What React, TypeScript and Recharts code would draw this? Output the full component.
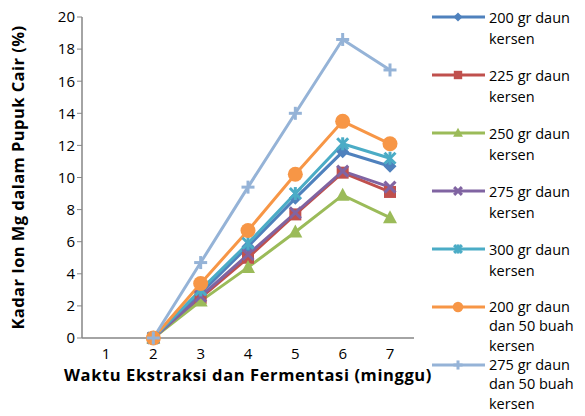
import React from "react";
import { LineChart, Line, XAxis, YAxis } from "recharts";

// minggu ke-
const weeks = [1, 2, 3, 4, 5, 6, 7];

// Kadar ion Mg (%) per perlakuan
const daun200 = [null, 0, 2.8, 5.7, 8.7, 11.6, 10.7];
const daun225 = [null, 0, 2.5, 5.0, 7.7, 10.3, 9.1];
const daun250 = [null, 0, 2.3, 4.4, 6.6, 8.9, 7.5];
const daun275 = [null, 0, 2.6, 5.2, 7.8, 10.4, 9.4];
const daun300 = [null, 0, 3.0, 5.9, 9.0, 12.1, 11.2];
const daun200buah = [null, 0, 3.4, 6.7, 10.2, 13.5, 12.1];
const daun275buah = [null, 0, 4.7, 9.4, 14.0, 18.6, 16.7];

const yTicks = [0, 2, 4, 6, 8, 10, 12, 14, 16, 18, 20];

const series = [
  { key: "s1", lines: ["200 gr daun", "kersen"], values: daun200, color: "#4F81BD", shape: "diamond" },
  { key: "s2", lines: ["225 gr daun", "kersen"], values: daun225, color: "#C0504D", shape: "square" },
  { key: "s3", lines: ["250 gr daun", "kersen"], values: daun250, color: "#9BBB59", shape: "triangle" },
  { key: "s4", lines: ["275 gr daun", "kersen"], values: daun275, color: "#8064A2", shape: "x" },
  { key: "s5", lines: ["300 gr daun", "kersen"], values: daun300, color: "#4BACC6", shape: "star" },
  { key: "s6", lines: ["200 gr daun", "dan 50 buah", "kersen"], values: daun200buah, color: "#F79646", shape: "circle" },
  { key: "s7", lines: ["275 gr daun", "dan 50 buah", "kersen"], values: daun275buah, color: "#95B3D7", shape: "plus" },
];

const data = weeks.map((w, i) => {
  const row: any = { week: w };
  series.forEach((s) => (row[s.key] = s.values[i]));
  return row;
});

const FONT = "'Open Sans', sans-serif";

function Marker({ shape, cx, cy, color, k = 1 }: any) {
  if (cx == null || cy == null || isNaN(cx) || isNaN(cy)) return <g />;
  const s = k;
  switch (shape) {
    case "diamond":
      return (
        <polygon
          points={`${cx},${cy - 6.5 * s} ${cx + 6.5 * s},${cy} ${cx},${cy + 6.5 * s} ${cx - 6.5 * s},${cy}`}
          fill={color}
        />
      );
    case "square":
      return <rect x={cx - 6 * s} y={cy - 6 * s} width={12 * s} height={12 * s} fill={color} />;
    case "triangle":
      return (
        <polygon
          points={`${cx},${cy - 7.5 * s} ${cx + 7 * s},${cy + 5.5 * s} ${cx - 7 * s},${cy + 5.5 * s}`}
          fill={color}
        />
      );
    case "x":
      return (
        <g stroke={color} strokeWidth={3}>
          <line x1={cx - 5.5 * s} y1={cy - 5.5 * s} x2={cx + 5.5 * s} y2={cy + 5.5 * s} />
          <line x1={cx - 5.5 * s} y1={cy + 5.5 * s} x2={cx + 5.5 * s} y2={cy - 5.5 * s} />
        </g>
      );
    case "star":
      return (
        <g stroke={color} strokeWidth={3}>
          <line x1={cx - 5.5 * s} y1={cy - 5.5 * s} x2={cx + 5.5 * s} y2={cy + 5.5 * s} />
          <line x1={cx - 5.5 * s} y1={cy + 5.5 * s} x2={cx + 5.5 * s} y2={cy - 5.5 * s} />
          <line x1={cx} y1={cy - 6.5 * s} x2={cx} y2={cy + 6.5 * s} />
        </g>
      );
    case "circle":
      return <circle cx={cx} cy={cy} r={7.5 * s} fill={color} />;
    case "plus":
      return (
        <g stroke={color} strokeWidth={3}>
          <line x1={cx - 6.5 * s} y1={cy} x2={cx + 6.5 * s} y2={cy} />
          <line x1={cx} y1={cy - 6.5 * s} x2={cx} y2={cy + 6.5 * s} />
        </g>
      );
    default:
      return <g />;
  }
}

const LegendBox = () => (
  <div
    style={{
      position: "absolute",
      left: 430,
      top: 7,
      width: 155,
      fontFamily: FONT,
      fontSize: 14.5,
      color: "#000",
    }}
  >
    {series.map((s) => (
      <div key={s.key} style={{ display: "flex", height: 58, alignItems: "flex-start" }}>
        <svg width={59} height={20} style={{ flex: "none" }}>
          <line x1={2} y1={10} x2={55} y2={10} stroke={s.color} strokeWidth={3} />
          <Marker shape={s.shape} cx={28} cy={10} color={s.color} k={0.7} />
        </svg>
        <div style={{ lineHeight: s.lines.length > 2 ? "19.3px" : "21px", whiteSpace: "nowrap" }}>
          {s.lines.map((l, i) => (
            <div key={i}>{l}</div>
          ))}
        </div>
      </div>
    ))}
  </div>
);

export default function App() {
  return (
    <div style={{ position: "relative", width: 585, height: 416 }}>
      <style>{`body{margin:0}`}</style>
      <LineChart
        width={585}
        height={416}
        data={data}
        margin={{ top: 17, right: 171, bottom: 18, left: 0 }}
        style={{ fontFamily: FONT }}
      >
        <XAxis
          dataKey="week"
          height={60}
          padding={{ left: 24, right: 24 }}
          tickLine={false}
          axisLine={{ stroke: "#868686", strokeWidth: 1.5 }}
          tick={{ fontSize: 15, fill: "#000" }}
          tickMargin={4}
          label={{
            value: "Waktu Ekstraksi dan Fermentasi (minggu)",
            position: "insideBottom",
            offset: 17,
            style: { fontSize: 16.5, fontWeight: 700, fill: "#000", letterSpacing: 0.6 },
          }}
        />
        <YAxis
          width={82}
          domain={[0, 20]}
          ticks={yTicks}
          interval={0}
          axisLine={{ stroke: "#868686", strokeWidth: 1.5 }}
          tickLine={{ stroke: "#868686" }}
          tickSize={5}
          tick={{ fontSize: 15, fill: "#000" }}
          label={{
            value: "Kadar Ion Mg dalam Pupuk Cair (%)",
            angle: -90,
            position: "insideLeft",
            offset: 18,
            style: { fontSize: 16.5, fontWeight: 700, fill: "#000", textAnchor: "middle", letterSpacing: 0.45 },
          }}
        />
        {series.map((s) => (
          <Line
            key={s.key}
            dataKey={s.key}
            stroke={s.color}
            strokeWidth={3}
            isAnimationActive={false}
            dot={(p: any) => (
              <Marker key={`${s.key}-${p.index}`} shape={s.shape} cx={p.cx} cy={p.cy} color={s.color} />
            )}
            activeDot={false}
          />
        ))}
      </LineChart>
      <LegendBox />
    </div>
  );
}
